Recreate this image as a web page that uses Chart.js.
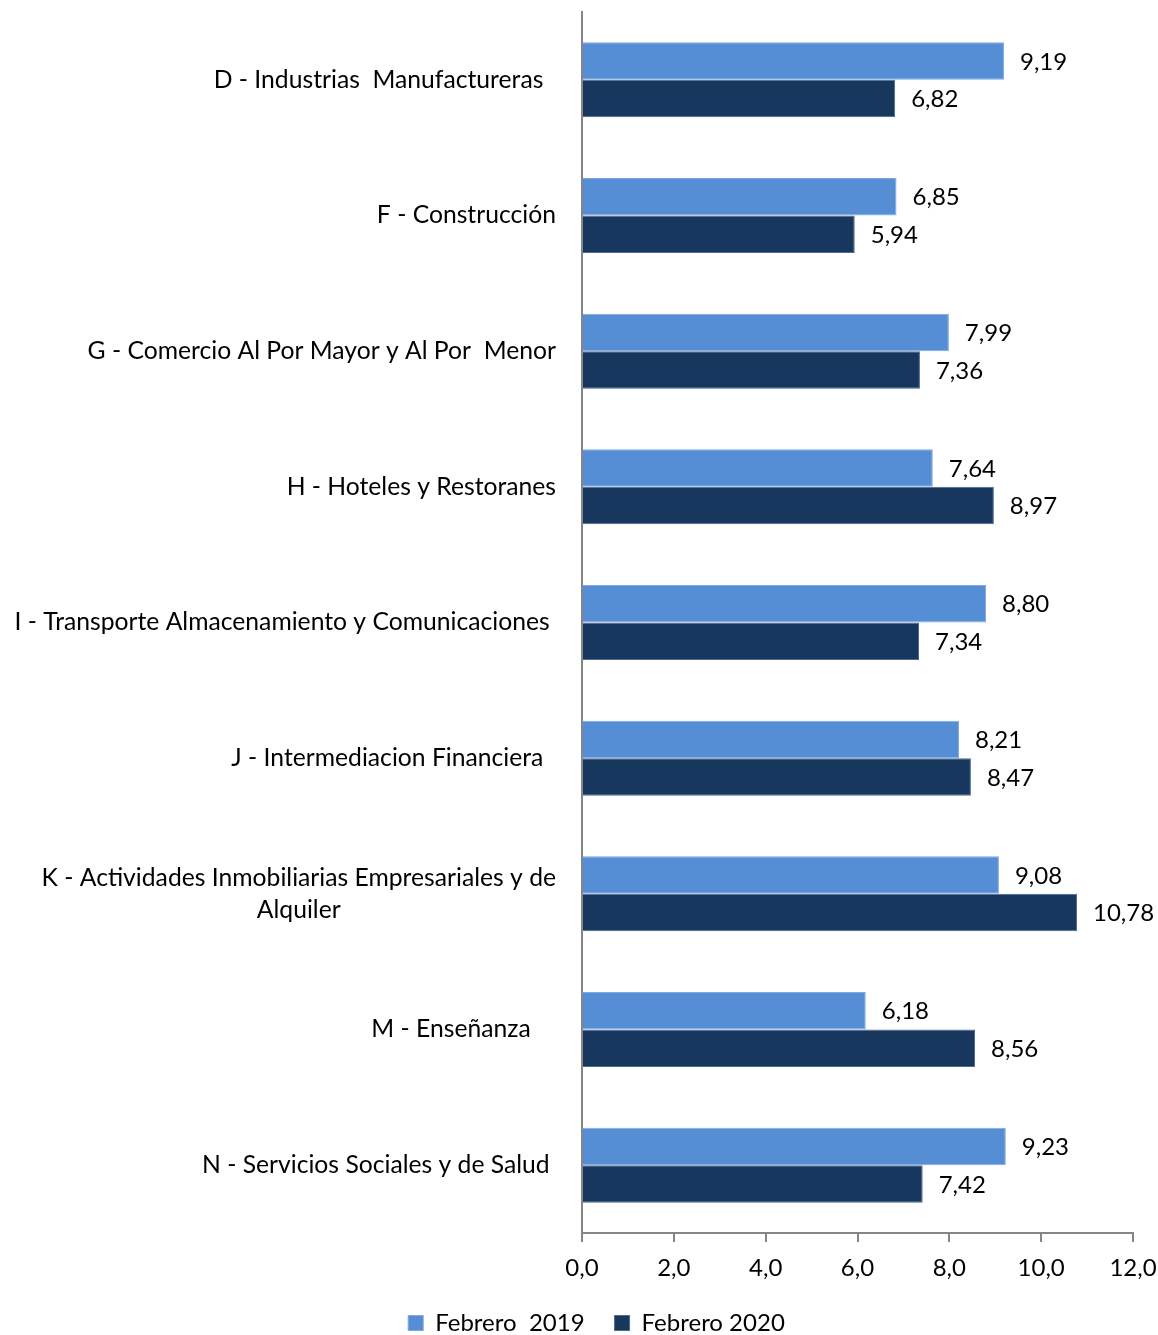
<!DOCTYPE html>
<html>
<head>
<meta charset="utf-8">
<script src="https://cdn.jsdelivr.net/npm/chart.js@4"></script>
<style>
  html, body { margin: 0; padding: 0; background: #fff; }
  #wrap { width: 1158px; height: 1335px; }
</style>
</head>
<body>
<div id="wrap"><canvas id="chart"></canvas></div>
<script>
// sector labels (trailing spaces kept as in the source sheet)
var sectors = [
  "D - Industrias  Manufactureras  ",
  "F - Construcción",
  "G - Comercio Al Por Mayor y Al Por  Menor",
  "H - Hoteles y Restoranes",
  "I - Transporte Almacenamiento y Comunicaciones ",
  "J - Intermediacion Financiera  ",
  ["K - Actividades Inmobiliarias Empresariales y de", "Alquiler"],
  "M - Enseñanza    ",
  "N - Servicios Sociales y de Salud "
];
var feb2019 = [9.19, 6.85, 7.99, 7.64, 8.80, 8.21, 9.08, 6.18, 9.23];
var feb2020 = [6.82, 5.94, 7.36, 8.97, 7.34, 8.47, 10.78, 8.56, 7.42];
var seriesNames = ["Febrero  2019", "Febrero 2020"];
var xTicks = [0, 2, 4, 6, 8, 10, 12];

var FONT = "Lato";
var FS = 24;

function fmt(v, d) {
  return v.toFixed(d).replace(".", ",");
}

// value labels at the end of each bar
var barValues = {
  id: "barValues",
  afterDatasetsDraw: function (chart) {
    var ctx = chart.ctx;
    ctx.save();
    ctx.font = FS + "px " + FONT;
    ctx.fillStyle = "#000";
    ctx.textAlign = "left";
    ctx.textBaseline = "middle";
    chart.data.datasets.forEach(function (ds, i) {
      chart.getDatasetMeta(i).data.forEach(function (bar, j) {
        ctx.fillText(fmt(ds.data[j], 2), bar.x + 16, bar.y + 1);
      });
    });
    ctx.restore();
  }
};

// category labels: block right-aligned next to the axis, lines centred in it
var sectorLabels = {
  id: "sectorLabels",
  afterDraw: function (chart) {
    var ctx = chart.ctx;
    var y = chart.scales.y;
    var right = y.right - 26;
    ctx.save();
    ctx.font = "24.7px " + FONT;
    ctx.fillStyle = "#000";
    ctx.textAlign = "left";
    ctx.textBaseline = "middle";
    sectors.forEach(function (lab, i) {
      var lines = Array.isArray(lab) ? lab : [lab];
      var widest = 0;
      lines.forEach(function (l) { widest = Math.max(widest, ctx.measureText(l).width); });
      var cx = right - widest / 2;
      var lh = 32;
      var y0 = y.getPixelForTick(i) - (lines.length - 1) * lh / 2;
      lines.forEach(function (l, k) {
        var w = ctx.measureText(l).width;
        ctx.fillText(l, cx - w / 2, y0 + k * lh);
      });
    });
    ctx.restore();
  }
};

var ctx = document.getElementById("chart").getContext("2d");
new Chart(ctx, {
  type: "bar",
  data: {
    labels: sectors,
    datasets: [
      {
        label: seriesNames[0],
        data: feb2019,
        backgroundColor: "#558ED5",
        borderColor: "#7fa9e0",
        borderWidth: 1,
        categoryPercentage: 0.553,
        barPercentage: 1
      },
      {
        label: seriesNames[1],
        data: feb2020,
        backgroundColor: "#17375E",
        borderColor: "#4a6a92",
        borderWidth: 1,
        categoryPercentage: 0.553,
        barPercentage: 1
      }
    ]
  },
  options: {
    indexAxis: "y",
    responsive: true,
    maintainAspectRatio: false,
    animation: false,
    layout: {
      padding: { left: 35, right: 0, top: 12, bottom: -10 }
    },
    scales: {
      x: {
        min: 0,
        max: 12,
        afterBuildTicks: function (scale) {
          scale.ticks = xTicks.map(function (v) { return { value: v }; });
        },
        afterFit: function (scale) {
          scale.height = 48;
          scale.paddingRight = 25;
        },
        ticks: {
          font: { family: FONT, size: FS },
          color: "#000",
          padding: 12,
          callback: function (v) { return fmt(v, 1); }
        },
        grid: {
          display: true,
          drawOnChartArea: false,
          drawTicks: true,
          tickLength: 9,
          color: "#868686",
          lineWidth: 2
        },
        border: { display: true, color: "#868686", width: 2 }
      },
      y: {
        ticks: { display: false },
        grid: { display: false, drawTicks: false },
        border: { display: true, color: "#868686", width: 2 },
        afterFit: function (scale) { scale.width = 547; }
      }
    },
    plugins: {
      legend: {
        position: "bottom",
        labels: {
          font: { family: FONT, size: FS },
          color: "#000",
          boxWidth: 15,
          boxHeight: 15,
          padding: 30,
          useBorderRadius: false
        }
      },
      tooltip: { enabled: false }
    }
  },
  plugins: [barValues, sectorLabels]
});
</script>
</body>
</html>
